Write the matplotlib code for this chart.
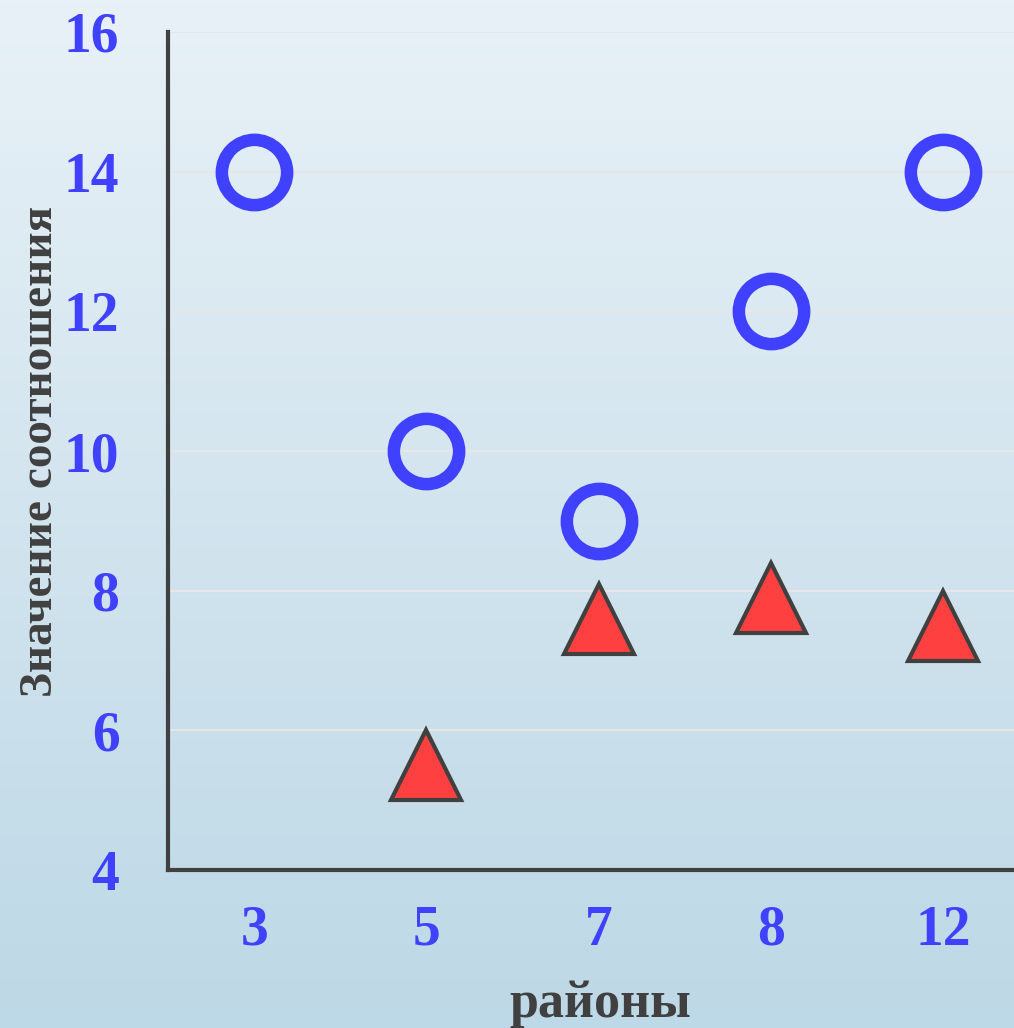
import numpy as np
import matplotlib.pyplot as plt

districts = ['3', '5', '7', '8', '12']
circle_vals = [14, 10, 9, 12, 14]
tri_districts = ['5', '7', '8', '12']
tri_vals = [5.5, 7.6, 7.9, 7.5]
yticks = [4, 6, 8, 10, 12, 14, 16]

plt.rcParams['font.family'] = ['Liberation Serif', 'DejaVu Serif']
plt.rcParams['font.weight'] = 'bold'

fig = plt.figure(figsize=(10.14, 10.28), dpi=100)

# background gradient
bg = fig.add_axes([0, 0, 1, 1], zorder=-10)
top = np.array([232, 241, 247]) / 255
bot = np.array([189, 216, 230]) / 255
t = np.linspace(0, 1, 256)[:, None]
grad = top[None, :] * (1 - t) + bot[None, :] * t
bg.imshow(grad[:, None, :], aspect='auto', extent=[0, 1, 0, 1])
bg.axis('off')

ax_w = 1 - 168 / 1014 + 0.01
ax = fig.add_axes([168 / 1014, 158 / 1028, ax_w, (870 - 32) / 1028])
ax.set_facecolor('none')

xpos = {d: i for i, d in enumerate(districts)}
ax.plot([xpos[d] for d in districts], circle_vals, 'o', ms=47, mew=9,
        mec='#4040ff', mfc='none', zorder=3, clip_on=False)
ax.plot([xpos[d] for d in tri_districts], tri_vals, '^', ms=50, mew=3,
        mec='#404040', mfc='#ff4040', zorder=3, clip_on=False)

ax.set_ylim(4, 16)
ax.set_xlim(-0.5, 4.47)
ax.set_yticks(yticks)
ax.set_xticks(range(len(districts)))
ax.set_xticklabels(districts)
ax.yaxis.grid(True, color='#e6e6e6', lw=1.5)
ax.set_axisbelow(True)

for s in ['top', 'right']:
    ax.spines[s].set_visible(False)
for s in ['left', 'bottom']:
    ax.spines[s].set_color('#404040')
    ax.spines[s].set_linewidth(3)

ax.tick_params(length=0, labelsize=40, labelcolor='#4040ff')
ax.tick_params(axis='y', pad=35)
ax.tick_params(axis='x', pad=25)

ax_px_w = ax_w * 1014
ax.set_xlabel('районы', fontsize=37.5, color='#404040', fontweight='bold')
ax.xaxis.label.set_va('baseline')
ax.xaxis.set_label_coords((600 - 168) / ax_px_w, (870 - 1017) / 838)
ax.set_ylabel('Значение соотношения', fontsize=34, color='#404040', fontweight='bold',
              rotation_mode='anchor')
ax.yaxis.label.set_va('baseline')
ax.yaxis.set_label_coords((52 - 168) / ax_px_w, 0.5)

fig.savefig('out.png', dpi=100)
